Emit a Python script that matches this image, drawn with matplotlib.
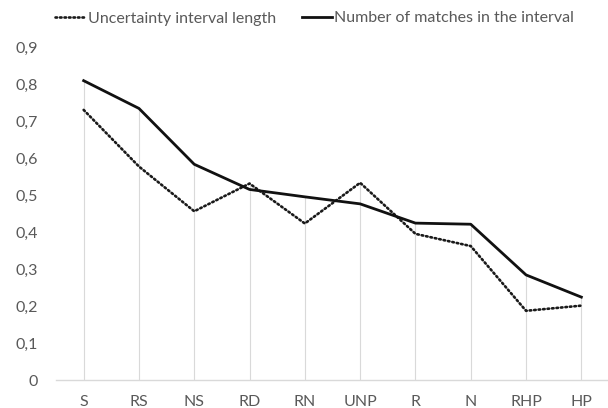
import matplotlib
matplotlib.use("Agg")
import matplotlib.pyplot as plt
from matplotlib.lines import Line2D
from matplotlib.ticker import FuncFormatter

categories = ["S", "RS", "NS", "RD", "RN", "UNP", "R", "N", "RHP", "HP"]
interval_length = [0.730, 0.577, 0.456, 0.531, 0.423, 0.533, 0.395, 0.362, 0.187, 0.201]
matches_in_interval = [0.809, 0.734, 0.583, 0.515, 0.495, 0.476, 0.424, 0.421, 0.284, 0.224]
y_ticks = [0, 0.1, 0.2, 0.3, 0.4, 0.5, 0.6, 0.7, 0.8, 0.9]

plt.rcParams["font.family"] = ["Lato", "DejaVu Sans"]
text_color = "#595959"
grid_color = "#d9d9d9"
W, H = 608, 408

dotted_style = dict(color="#1a1a1a", linewidth=1.9,
                    linestyle=(0, (0.6, 1.1)), dash_capstyle="round")
solid_style = dict(color="#111111", linewidth=2.0)

fig = plt.figure(figsize=(W / 100, H / 100), dpi=100)
ax = fig.add_axes([56 / W, 1 - 380 / H, 553 / W, 333 / H])

x = list(range(len(categories)))

# drop lines from the higher of the two series down to the axis
tops = [max(a, b) for a, b in zip(interval_length, matches_in_interval)]
ax.vlines(x, 0, tops, colors=grid_color, linewidth=0.8, zorder=1)

ax.plot(x, interval_length, zorder=3, **dotted_style)
ax.plot(x, matches_in_interval, zorder=3, **solid_style)

ax.set_xlim(-0.5, 9.5)
ax.set_ylim(0, 0.9)
ax.set_xticks(x)
ax.set_xticklabels(categories)
ax.set_yticks(y_ticks)
ax.yaxis.set_major_formatter(FuncFormatter(
    lambda v, _: "0" if abs(v) < 1e-9 else f"{v:.1f}".replace(".", ",")))

for side in ("top", "right", "left"):
    ax.spines[side].set_visible(False)
ax.spines["bottom"].set_color(grid_color)
ax.spines["bottom"].set_linewidth(1.0)
ax.tick_params(axis="both", length=0, labelsize=11.5, colors=text_color)
ax.tick_params(axis="x", pad=11)
ax.tick_params(axis="y", pad=13)

# legend row along the top
ly = 1 - 17 / H
legend_items = [
    (55, 85, 88, "Uncertainty interval length", dotted_style),
    (302, 332, 334, "Number of matches in the interval", solid_style),
]
for x0, x1, xt, label, style in legend_items:
    fig.add_artist(Line2D([x0 / W, x1 / W], [ly, ly], transform=fig.transFigure, **style))
    fig.text(xt / W, ly, label, ha="left", va="center_baseline",
             fontsize=11.5, color=text_color)

fig.savefig("out.png", dpi=100, facecolor="white")
